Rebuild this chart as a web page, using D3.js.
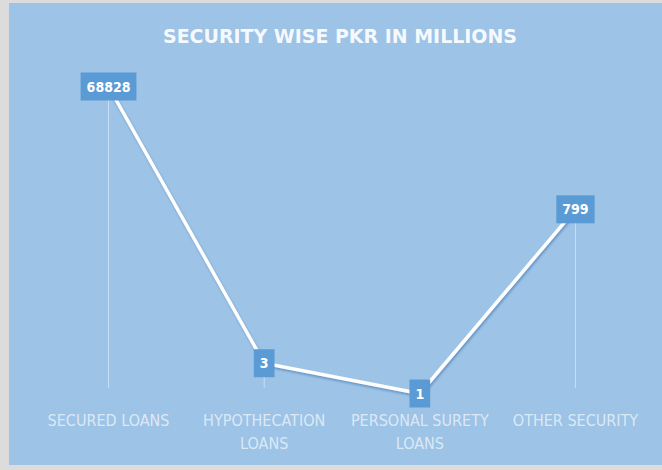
<!DOCTYPE html>
<html>
<head>
<meta charset="utf-8">
<script src="https://cdn.jsdelivr.net/npm/d3@7"></script>
<style>
  html, body { margin: 0; padding: 0; background: #dcdcdc; }
  svg { display: block; }
  text { font-family: "Liberation Sans Narrow", "DejaVu Sans Condensed", "Open Sans", sans-serif; }
</style>
</head>
<body>
<svg id="chart" width="662" height="470"></svg>
<script>
// Loan portfolio by type of security (PKR, millions)
const categories = [["SECURED LOANS"], ["HYPOTHECATION", "LOANS"], ["PERSONAL SURETY", "LOANS"], ["OTHER SECURITY"]];
const values = [68828, 3, 1, 799];
const titleText = "SECURITY WISE PKR IN MILLIONS";

const svg = d3.select("#chart");
const W = 662, H = 470;

// chart area
svg.append("rect").attr("x", 9).attr("y", 3).attr("width", W - 9).attr("height", 462)
  .attr("fill", "#9dc3e6");

svg.append("text")
  .attr("x", 340).attr("y", 43)
  .attr("text-anchor", "middle")
  .attr("fill", "#ffffff").attr("fill-opacity", 0.92)
  .attr("font-size", 19).attr("font-weight", "bold")
  .attr("textLength", 354).attr("lengthAdjust", "spacingAndGlyphs")
  .text(titleText);

const keys = categories.map(c => c.join(" "));
const x = d3.scalePoint().domain(keys).range([30.7, 653.3]).padding(0.5);
const y = d3.scaleLog().domain([1, 100000]).range([393.5, 76.2]);

const defs = svg.append("defs");
const f = defs.append("filter").attr("id", "shadow").attr("x", "-20%").attr("y", "-20%").attr("width", "140%").attr("height", "140%");
f.append("feDropShadow").attr("dx", 1).attr("dy", 2).attr("stdDeviation", 1.2)
  .attr("flood-color", "#3f78b5").attr("flood-opacity", 0.6);

const data = keys.map((k, i) => ({ k, v: values[i] }));

// drop lines
svg.append("g").selectAll("line").data(data).join("line")
  .attr("x1", d => x(d.k)).attr("x2", d => x(d.k))
  .attr("y1", d => y(d.v)).attr("y2", 388)
  .attr("stroke", "#ffffff").attr("stroke-opacity", 0.45).attr("stroke-width", 1);

// series line
const line = d3.line().x(d => x(d.k)).y(d => y(d.v));
svg.append("path").datum(data)
  .attr("d", line)
  .attr("fill", "none").attr("stroke", "#ffffff").attr("stroke-width", 3.5)
  .attr("filter", "url(#shadow)");

// data labels
const lbl = svg.append("g").selectAll("g").data(data).join("g")
  .attr("transform", d => `translate(${x(d.k)},${y(d.v)})`);
lbl.append("text")
  .attr("text-anchor", "middle").attr("dy", "0.36em")
  .attr("fill", "#ffffff").attr("font-size", 14).attr("font-weight", "bold")
  .text(d => d3.format("d")(d.v));
lbl.each(function () {
  const g = d3.select(this);
  const bb = g.select("text").node().getBBox();
  g.insert("rect", "text")
    .attr("x", -bb.width / 2 - 6).attr("y", -14)
    .attr("width", bb.width + 12).attr("height", 28)
    .attr("fill", "#5b9bd5");
});

// category axis labels
const ax = svg.append("g").selectAll("text").data(categories).join("text")
  .attr("x", (d, i) => x(keys[i])).attr("y", 426)
  .attr("text-anchor", "middle")
  .attr("fill", "#ffffff").attr("fill-opacity", 0.65)
  .attr("font-size", 16);
ax.each(function (d) {
  const t = d3.select(this);
  d.forEach((s, j) => {
    t.append("tspan").attr("x", t.attr("x")).attr("dy", j === 0 ? 0 : 23).text(s);
  });
});
</script>
</body>
</html>
